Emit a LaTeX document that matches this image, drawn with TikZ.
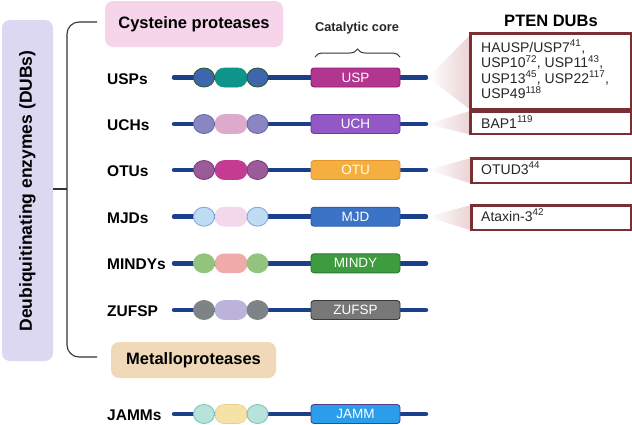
\documentclass[tikz,border=0pt]{standalone}
\usepackage{fontspec}
\setmainfont{Liberation Sans}
\usetikzlibrary{shapes.geometric,decorations.pathreplacing}
\definecolor{lav}{HTML}{DCD8F2}
\definecolor{pinkbox}{HTML}{F6D5EA}
\definecolor{beige}{HTML}{EFD9B8}
\definecolor{bbblue}{HTML}{1B3F8B}
\definecolor{pborder}{HTML}{7B2F35}
\definecolor{wedgec}{HTML}{EAD3D3}
% USP row
\definecolor{usp-cf}{HTML}{3D66AE}\definecolor{usp-co}{HTML}{2F5E2A}
\definecolor{usp-mf}{HTML}{0E9488}\definecolor{usp-mo}{HTML}{0E9488}
\definecolor{usp-bf}{HTML}{B2358F}\definecolor{usp-bo}{HTML}{8A1F6E}
% UCH
\definecolor{uch-cf}{HTML}{8A86C0}\definecolor{uch-co}{HTML}{6B67AE}
\definecolor{uch-mf}{HTML}{DDAACB}\definecolor{uch-mo}{HTML}{DDAACB}
\definecolor{uch-bf}{HTML}{9258C6}\definecolor{uch-bo}{HTML}{6A3A9E}
% OTU
\definecolor{otu-cf}{HTML}{9B5B99}\definecolor{otu-co}{HTML}{7F3F7D}
\definecolor{otu-mf}{HTML}{C33C92}\definecolor{otu-mo}{HTML}{C33C92}
\definecolor{otu-bf}{HTML}{F5AF41}\definecolor{otu-bo}{HTML}{E5952A}
% MJD
\definecolor{mjd-cf}{HTML}{BEDCF4}\definecolor{mjd-co}{HTML}{86A8DC}
\definecolor{mjd-mf}{HTML}{F3D7EA}\definecolor{mjd-mo}{HTML}{F3D7EA}
\definecolor{mjd-bf}{HTML}{3B74C6}\definecolor{mjd-bo}{HTML}{2A5AA0}
% MINDY
\definecolor{min-cf}{HTML}{92C47E}\definecolor{min-co}{HTML}{92C47E}
\definecolor{min-mf}{HTML}{EEABAA}\definecolor{min-mo}{HTML}{EEABAA}
\definecolor{min-bf}{HTML}{3E9C3E}\definecolor{min-bo}{HTML}{2B7A2B}
% ZUFSP
\definecolor{zuf-cf}{HTML}{7E8386}\definecolor{zuf-co}{HTML}{7E8386}
\definecolor{zuf-mf}{HTML}{BBB3DA}\definecolor{zuf-mo}{HTML}{BBB3DA}
\definecolor{zuf-bf}{HTML}{787878}\definecolor{zuf-bo}{HTML}{3A3A3A}
% JAMM
\definecolor{jam-cf}{HTML}{B7E3DB}\definecolor{jam-co}{HTML}{7CC5B8}
\definecolor{jam-mf}{HTML}{F5E2A6}\definecolor{jam-mo}{HTML}{E8CF85}
\definecolor{jam-bf}{HTML}{2A9EEA}\definecolor{jam-bo}{HTML}{5A3A8A}
\tikzset{
  backbone/.style={draw=bbblue, line width=4.5pt, line cap=round},
  dom/.style={ellipse, minimum width=21pt, minimum height=19pt, inner sep=0pt, line width=0.9pt},
  midd/.style={rectangle, rounded corners=9pt, minimum width=32pt, minimum height=19pt, inner sep=0pt, line width=0.6pt},
  catbox/.style={rectangle, rounded corners=3pt, minimum width=89pt, minimum height=19pt, inner sep=0pt, line width=0.9pt, text=white, font=\fontsize{13.5}{14}\selectfont},
  rowlab/.style={anchor=base west, inner sep=0pt, font=\fontsize{15.5}{17}\selectfont\bfseries},
  pbox/.style={draw=pborder, line width=1.5pt, fill=white, anchor=north west, inner sep=0pt},
  ptext/.style={anchor=base west, inner sep=0pt, font=\fontsize{14}{15.5}\selectfont, text=black!85},
  bracket/.style={draw=black!80, line width=1.1pt, rounded corners=12pt},
}
\begin{document}
\begin{tikzpicture}[x=1pt,y=-1pt]
\useasboundingbox (0,0) rectangle (632,424);
% left lavender box
\node[fill=lav, rounded corners=8pt, minimum width=51pt, minimum height=341pt, inner sep=0pt] (dubbox) at (27.5,190.5) {};
\node[rotate=90, font=\fontsize{17.5}{19}\selectfont\bfseries] (dubtxt) at (27.5,191) {Deubiquitinating enzymes (DUBs)};
% bracket
\coordinate (brt) at (97,22);
\coordinate (brb) at (97,357);
\coordinate (brm) at (53,189);
\coordinate (brmr) at (67,189);
\draw[bracket] (brt) -- (67,22) -- (67,357) -- (brb);
\draw[draw=black!80, line width=1.1pt] (brm) -- (brmr);
% category boxes
\node[fill=pinkbox, rounded corners=8pt, minimum width=178pt, minimum height=46pt, inner sep=0pt, font=\fontsize{16.5}{18}\selectfont\bfseries] (cys) at (194,24) {Cysteine proteases};
\node[fill=beige, rounded corners=8pt, minimum width=165pt, minimum height=36pt, inner sep=0pt, font=\fontsize{16.5}{18}\selectfont\bfseries] (met) at (193.5,360) {Metalloproteases};
% catalytic core label
\node[font=\fontsize{12.8}{14}\selectfont\bfseries, text=black!85] (catlab) at (357,28) {Catalytic core};
\coordinate (brl) at (315,57);
\coordinate (brr) at (400,57);
\draw[decorate, decoration={brace, amplitude=8pt}, line width=1pt, black!80] (brl) -- (brr);
% PTEN DUBs title
\node[font=\fontsize{16.5}{18}\selectfont\bfseries] (pten) at (551,21) {PTEN DUBs};
% rows
\foreach \i/\y/\lab/\cat in {usp/77.5/USPs/USP, uch/124/UCHs/UCH, otu/170/OTUs/OTU, mjd/216.7/MJDs/MJD, min/263.3/MINDYs/MINDY, zuf/310/ZUFSP/ZUFSP, jam/414/JAMMs/JAMM}{
  \coordinate (\i-l) at (174,\y);
  \coordinate (\i-r) at (426,\y);
  \draw[backbone] (\i-l) -- (\i-r);
  \node[midd, fill=\i-mf, draw=\i-mo] (\i-m) at (231,\y) {};
  \node[dom, fill=\i-cf, draw=\i-co] (\i-a) at (204,\y) {};
  \node[dom, fill=\i-cf, draw=\i-co] (\i-b) at (257.5,\y) {};
  \node[catbox, fill=\i-bf, draw=\i-bo] (\i-c) at (355.5,\y) {\cat};
  \node[rowlab] (\i-n) at (107,\y+6.5) {\lab};
}
% PTEN boxes
\node[pbox, minimum width=160pt, minimum height=75pt] (p-usp) at (470,33) {};
\node[pbox, minimum width=160pt, minimum height=22pt] (p-uch) at (470,111) {};
\node[pbox, minimum width=159pt, minimum height=24pt] (p-otu) at (471,158) {};
\node[pbox, minimum width=159pt, minimum height=24pt] (p-mjd) at (471,205) {};
% wedges
\coordinate (w-usp) at (428,77.5);
\coordinate (w-uch) at (428,124);
\coordinate (w-otu) at (428,170);
\coordinate (w-mjd) at (428,216.7);
\shade[left color=white, right color=wedgec] (w-usp) -- ([yshift=-2pt]p-usp.north west) -- (p-usp.south west) -- cycle;
\shade[left color=white, right color=wedgec] (w-uch) -- (p-uch.north west) -- (p-uch.south west) -- cycle;
\shade[left color=white, right color=wedgec] (w-otu) -- (p-otu.north west) -- (p-otu.south west) -- cycle;
\shade[left color=white, right color=wedgec] (w-mjd) -- (p-mjd.north west) -- (p-mjd.south west) -- cycle;
\draw[draw=pborder, line width=1.5pt] (p-usp.north west) rectangle (p-usp.south east);
\draw[draw=pborder, line width=1.5pt] (p-uch.north west) rectangle (p-uch.south east);
\draw[draw=pborder, line width=1.5pt] (p-otu.north west) rectangle (p-otu.south east);
\draw[draw=pborder, line width=1.5pt] (p-mjd.north west) rectangle (p-mjd.south east);
% PTEN texts
\node[ptext] (t1) at (481,52) {HAUSP/USP7\textsuperscript{41},};
\node[ptext] (t2) at (481,67.5) {USP10\textsuperscript{72}, USP11\textsuperscript{43},};
\node[ptext] (t3) at (481,83) {USP13\textsuperscript{45}, USP22\textsuperscript{117},};
\node[ptext] (t4) at (481,98.5) {USP49\textsuperscript{118}};
\node[ptext] (t5) at (481,128) {BAP1\textsuperscript{119}};
\node[ptext] (t6) at (481,174) {OTUD3\textsuperscript{44}};
\node[ptext] (t7) at (481,221) {Ataxin-3\textsuperscript{42}};
\end{tikzpicture}
\end{document}
